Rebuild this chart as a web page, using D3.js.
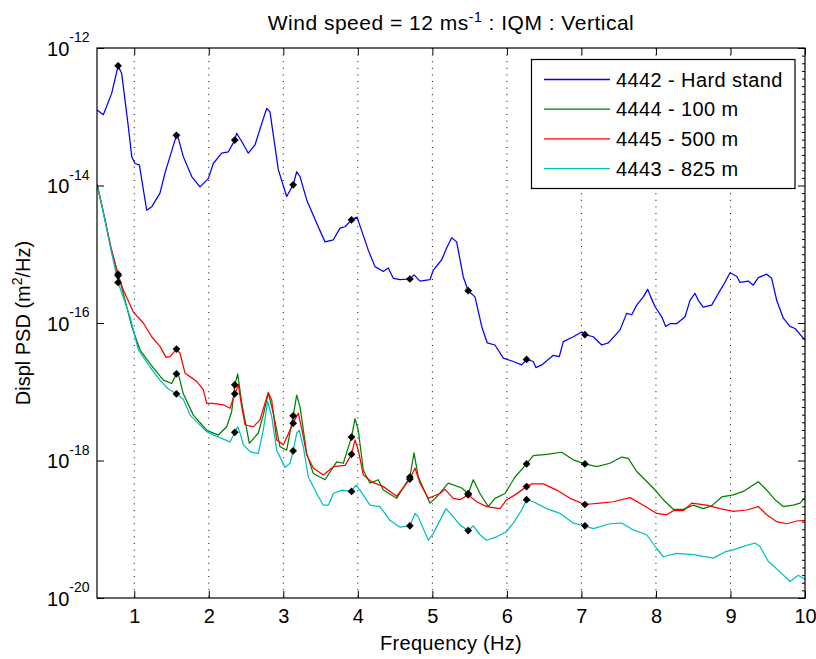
<!DOCTYPE html>
<html>
<head>
<meta charset="utf-8">
<script src="https://cdn.jsdelivr.net/npm/d3@7"></script>
<style>
  html, body { margin: 0; padding: 0; background: #fff; }
  svg { display: block; font-family: "Liberation Sans", Arial, Helvetica, sans-serif; }
  .axis text { fill: #000; }
</style>
</head>
<body>
<svg id="chart" width="816" height="659"></svg>
<script>
// ---- Spectra: frequency (Hz) and log10 of displacement PSD (m^2/Hz) ----

// 4442 - Hard stand
const hz4442 = [0.500, 0.585, 0.697, 0.831, 0.920, 0.966, 1.010, 1.068, 1.167, 1.234, 1.345, 1.412,
  1.591, 1.658, 1.771, 1.882, 1.993, 2.061, 2.173, 2.262, 2.374, 2.442, 2.530, 2.620, 2.710, 2.777,
  2.821, 2.933, 3.045, 3.180, 3.224, 3.314, 3.448, 3.559, 3.671, 3.761, 3.828, 3.989, 4.140, 4.230,
  4.342, 4.409, 4.476, 4.566, 4.754, 4.834, 4.968, 5.013, 5.125, 5.192, 5.259, 5.326, 5.415, 5.572,
  5.662, 5.737, 5.840, 5.952, 6.086, 6.199, 6.354, 6.390, 6.467, 6.623, 6.703, 6.757, 6.891, 7.004,
  7.159, 7.272, 7.361, 7.518, 7.607, 7.675, 7.742, 7.830, 7.889, 7.930, 7.987, 8.077, 8.131, 8.189,
  8.278, 8.390, 8.457, 8.524, 8.568, 8.635, 8.748, 8.837, 8.904, 8.994, 9.083, 9.128, 9.239, 9.306,
  9.373, 9.486, 9.553, 9.620, 9.709, 9.799, 9.866, 10.000];
const exp4442 = [-12.90, -12.97, -12.66, -12.37, -13.14, -13.58, -13.68, -13.70, -14.36, -14.31, -14.11, -13.82,
  -13.31, -13.58, -13.87, -14.02, -13.90, -13.68, -13.53, -13.51, -13.24, -13.36, -13.53, -13.41, -13.10, -12.88,
  -12.93, -13.77, -14.16, -13.80, -13.87, -14.21, -14.55, -14.82, -14.79, -14.62, -14.60, -14.46, -14.94, -15.18,
  -15.25, -15.20, -15.35, -15.37, -15.30, -15.39, -15.37, -15.23, -15.08, -14.91, -14.76, -14.82, -15.33, -15.62,
  -16.05, -16.29, -16.32, -16.51, -16.56, -16.61, -16.56, -16.65, -16.61, -16.47, -16.49, -16.27, -16.20, -16.13,
  -16.20, -16.32, -16.29, -16.10, -15.86, -15.88, -15.74, -15.62, -15.51, -15.62, -15.76, -15.91, -16.05, -16.01,
  -16.01, -15.91, -15.67, -15.57, -15.67, -15.77, -15.74, -15.57, -15.45, -15.27, -15.32, -15.41, -15.39, -15.45,
  -15.34, -15.29, -15.35, -15.67, -15.93, -16.05, -16.08, -16.25];

// 4444 - 100 m
const hz4444 = [0.500, 0.594, 0.688, 0.853, 0.966, 1.077, 1.211, 1.390, 1.502, 1.591, 1.658, 1.792,
  1.972, 2.128, 2.240, 2.307, 2.388, 2.442, 2.544, 2.664, 2.731, 2.798, 2.866, 2.955, 3.045, 3.180,
  3.224, 3.314, 3.402, 3.559, 3.716, 3.805, 3.962, 4.006, 4.073, 4.163, 4.274, 4.342, 4.521, 4.754,
  4.811, 4.968, 5.058, 5.214, 5.394, 5.549, 5.639, 5.750, 5.840, 5.975, 6.109, 6.354, 6.534, 6.735,
  6.891, 7.205, 7.383, 7.540, 7.629, 7.742, 7.964, 8.099, 8.233, 8.367, 8.501, 8.635, 8.748, 8.882,
  9.038, 9.172, 9.373, 9.486, 9.597, 9.709, 9.843, 9.933, 10.000];
const exp4444 = [-13.98, -14.43, -14.91, -15.57, -16.05, -16.39, -16.59, -16.83, -16.88, -16.74, -17.03, -17.34,
  -17.56, -17.63, -17.51, -17.29, -16.74, -17.16, -17.75, -17.60, -17.34, -17.02, -17.31, -17.80, -17.85, -17.05,
  -17.22, -17.90, -18.19, -18.28, -18.02, -18.04, -17.39, -17.56, -18.14, -18.33, -18.28, -18.43, -18.55, -17.89,
  -18.24, -18.62, -18.53, -18.33, -18.40, -18.28, -18.48, -18.67, -18.55, -18.48, -18.24, -17.93, -17.91, -17.88,
  -17.99, -18.09, -18.04, -17.95, -17.97, -18.16, -18.40, -18.57, -18.71, -18.71, -18.65, -18.70, -18.66, -18.53,
  -18.50, -18.45, -18.31, -18.43, -18.57, -18.67, -18.65, -18.62, -18.54];

// 4445 - 500 m
const hz4445 = [0.500, 0.594, 0.688, 0.853, 0.987, 1.121, 1.234, 1.345, 1.426, 1.480, 1.614, 1.681,
  1.748, 1.838, 1.926, 1.972, 2.061, 2.195, 2.285, 2.396, 2.442, 2.486, 2.597, 2.687, 2.798, 2.844,
  2.911, 3.000, 3.201, 3.268, 3.314, 3.402, 3.537, 3.671, 3.828, 3.962, 4.006, 4.073, 4.186, 4.342,
  4.521, 4.767, 4.834, 4.945, 5.102, 5.169, 5.281, 5.371, 5.595, 5.729, 5.908, 5.997, 6.109, 6.333,
  6.488, 6.668, 6.847, 7.249, 7.428, 7.652, 7.830, 8.010, 8.144, 8.233, 8.367, 8.480, 8.681, 8.859,
  9.038, 9.218, 9.373, 9.486, 9.620, 9.754, 9.888, 10.000];
const exp4445 = [-13.98, -14.43, -14.91, -15.52, -15.84, -16.00, -16.20, -16.34, -16.50, -16.49, -16.44, -16.73,
  -16.78, -16.85, -16.97, -17.17, -17.17, -17.19, -17.24, -16.90, -17.22, -17.48, -17.51, -17.41, -17.01, -17.12,
  -17.70, -17.77, -17.31, -17.65, -17.92, -18.11, -18.21, -18.09, -18.07, -17.70, -17.85, -18.21, -18.31, -18.38,
  -18.52, -18.11, -18.33, -18.55, -18.48, -18.42, -18.55, -18.57, -18.60, -18.67, -18.70, -18.57, -18.50, -18.34,
  -18.34, -18.43, -18.55, -18.62, -18.60, -18.54, -18.65, -18.77, -18.79, -18.73, -18.73, -18.62, -18.65, -18.70,
  -18.74, -18.72, -18.67, -18.79, -18.89, -18.92, -18.88, -18.87];

// 4443 - 825 m
const hz4443 = [0.500, 0.594, 0.688, 0.943, 1.054, 1.211, 1.345, 1.457, 1.658, 1.748, 1.972, 2.106,
  2.285, 2.388, 2.428, 2.463, 2.553, 2.664, 2.731, 2.790, 2.844, 2.911, 3.023, 3.090, 3.180, 3.214,
  3.268, 3.335, 3.448, 3.537, 3.604, 3.671, 3.787, 3.975, 4.029, 4.163, 4.297, 4.431, 4.566, 4.767,
  4.811, 4.945, 5.013, 5.183, 5.281, 5.371, 5.549, 5.639, 5.729, 5.863, 5.988, 6.086, 6.199, 6.354,
  6.534, 6.713, 6.891, 7.159, 7.383, 7.540, 7.696, 7.876, 8.010, 8.099, 8.278, 8.501, 8.769, 8.926,
  9.038, 9.172, 9.329, 9.396, 9.508, 9.665, 9.799, 9.910, 10.000];
const exp4443 = [-13.98, -14.44, -14.94, -15.91, -16.39, -16.64, -16.83, -16.96, -17.11, -17.34, -17.58, -17.65,
  -17.73, -17.51, -17.63, -17.77, -17.87, -17.90, -17.56, -17.14, -17.36, -17.85, -18.10, -18.04, -17.60, -17.56,
  -17.80, -18.24, -18.48, -18.65, -18.65, -18.48, -18.43, -18.36, -18.43, -18.65, -18.67, -18.87, -18.97, -18.77,
  -18.82, -19.16, -19.06, -18.70, -18.82, -18.94, -18.95, -19.08, -19.16, -19.11, -19.04, -18.91, -18.72, -18.60,
  -18.70, -18.77, -18.91, -18.99, -18.92, -18.91, -19.01, -19.08, -19.28, -19.40, -19.35, -19.37, -19.42, -19.33,
  -19.30, -19.25, -19.20, -19.25, -19.47, -19.62, -19.76, -19.67, -19.73];

// Harmonic frequencies picked out with markers, and the spectrum level at each
const harmonicHz = [0.783, 1.566, 2.349, 3.132, 3.915, 4.698, 5.481, 6.264, 7.047];
const mark4442 = [-12.26, -13.27, -13.34, -13.99, -14.50, -15.36, -15.53, -16.53, -16.17];
const mark4444 = [-15.29, -16.74, -16.90, -17.35, -17.66, -18.24, -18.48, -18.05, -18.05];
const mark4445 = [-15.31, -16.38, -17.03, -17.46, -17.91, -18.27, -18.50, -18.38, -18.64];
const mark4443 = [-15.41, -17.03, -17.59, -17.86, -18.45, -18.95, -19.02, -18.57, -18.95];

// Legend entries and colours
const seriesNames = ["4442 - Hard stand", "4444 - 100 m", "4445 - 500 m", "4443 - 825 m"];
const seriesColors = ["#0000ff", "#008000", "#ff0000", "#00bfbf"];

// Axis ticks
const xTickValues = [1, 2, 3, 4, 5, 6, 7, 8, 9, 10];
const yTickExps = [-12, -14, -16, -18, -20];

// ---- Layout ----
const svg = d3.select("#chart");
const plot = { left: 97, top: 48, right: 805, bottom: 598 };

const x = d3.scaleLinear().domain([0.5, 10]).range([plot.left, plot.right]);
const y = d3.scaleLog().domain([1e-20, 1e-12]).range([plot.bottom, plot.top]);

const toPoints = (hz, ex) => hz.map((f, i) => ({ f, v: Math.pow(10, ex[i]) }));

const series = [
  { name: seriesNames[0], color: seriesColors[0], pts: toPoints(hz4442, exp4442), marks: toPoints(harmonicHz, mark4442) },
  { name: seriesNames[1], color: seriesColors[1], pts: toPoints(hz4444, exp4444), marks: toPoints(harmonicHz, mark4444) },
  { name: seriesNames[2], color: seriesColors[2], pts: toPoints(hz4445, exp4445), marks: toPoints(harmonicHz, mark4445) },
  { name: seriesNames[3], color: seriesColors[3], pts: toPoints(hz4443, exp4443), marks: toPoints(harmonicHz, mark4443) }
];
// The marked harmonics lie on each curve
series.forEach(s => { s.line = s.pts.concat(s.marks).sort((a, b) => a.f - b.f); });

svg.append("defs").append("clipPath").attr("id", "plot-clip")
  .append("rect")
  .attr("x", plot.left).attr("y", plot.top)
  .attr("width", plot.right - plot.left).attr("height", plot.bottom - plot.top);

// Dotted vertical grid
svg.append("g").attr("class", "grid")
  .selectAll("line")
  .data(xTickValues.filter(d => d < 10))
  .join("line")
  .attr("x1", d => x(d)).attr("x2", d => x(d))
  .attr("y1", plot.top).attr("y2", plot.bottom)
  .attr("stroke", "#000")
  .attr("stroke-width", 1)
  .attr("stroke-dasharray", "1,5.6");

// Curves
const line = d3.line().x(d => x(d.f)).y(d => y(d.v));
const curves = svg.append("g").attr("clip-path", "url(#plot-clip)");
curves.selectAll("path")
  .data(series)
  .join("path")
  .attr("d", d => line(d.line))
  .attr("fill", "none")
  .attr("stroke", d => d.color)
  .attr("stroke-width", 1.25)
  .attr("stroke-linejoin", "round");

// Harmonic markers
const diamond = d3.symbol().type(d3.symbolSquare).size(30);
svg.append("g").selectAll("path")
  .data(series.flatMap(s => s.marks))
  .join("path")
  .attr("d", diamond)
  .attr("transform", d => `translate(${x(d.f)},${y(d.v)}) rotate(45)`)
  .attr("fill", "#000");

// ---- Axes (ticks pointing inward, box all round) ----
const yTickValues = yTickExps.map(e => Math.pow(10, e));
const minorExps = d3.range(-20 * 9, -12 * 9 + 1).map(k => k / 9).filter(e => Math.abs(e - Math.round(e / 2) * 2) > 1e-6);

const bottomAxis = svg.append("g").attr("class", "axis")
  .attr("transform", `translate(0,${plot.bottom})`)
  .call(d3.axisBottom(x).tickValues(xTickValues).tickSizeInner(-7).tickSizeOuter(0).tickPadding(11))
  .attr("font-size", 20).attr("font-family", null);
bottomAxis.select(".domain").remove();

const topAxis = svg.append("g").attr("class", "axis")
  .attr("transform", `translate(0,${plot.top})`)
  .call(d3.axisTop(x).tickValues(xTickValues).tickSizeInner(-7).tickSizeOuter(0).tickFormat(""));
topAxis.select(".domain").remove();

const leftAxis = svg.append("g").attr("class", "axis")
  .attr("transform", `translate(${plot.left},0)`)
  .call(d3.axisLeft(y).tickValues(yTickValues).tickSizeInner(-7).tickSizeOuter(0).tickPadding(8)
    .tickFormat(() => ""));
leftAxis.select(".domain").remove();
leftAxis.selectAll(".tick text")
  .attr("font-size", 20)
  .attr("font-family", null)
  .attr("x", -7.5)
  .attr("dy", 7)
  .each(function (d) {
    const t = d3.select(this);
    t.append("tspan").text("10");
    t.append("tspan").attr("font-size", 14).attr("dy", -13.5).text(String(Math.round(Math.log10(d))));
  });

const rightAxis = svg.append("g").attr("class", "axis")
  .attr("transform", `translate(${plot.right},0)`)
  .call(d3.axisRight(y).tickValues(yTickValues).tickSizeInner(-7).tickSizeOuter(0).tickFormat(""));
rightAxis.select(".domain").remove();
svg.append("g").attr("class", "axis")
  .attr("transform", `translate(${plot.right},0)`)
  .call(d3.axisRight(y).tickValues(minorExps.map(e => Math.pow(10, e))).tickSizeInner(-3).tickSizeOuter(0).tickFormat(""))
  .select(".domain").remove();

svg.selectAll(".axis .tick line").attr("stroke", "#000");

// Plot frame
svg.append("rect")
  .attr("x", plot.left).attr("y", plot.top)
  .attr("width", plot.right - plot.left).attr("height", plot.bottom - plot.top)
  .attr("fill", "none").attr("stroke", "#000").attr("stroke-width", 1.2);

// ---- Labels ----
const title = svg.append("text")
  .attr("x", (plot.left + plot.right) / 2).attr("y", 30)
  .attr("text-anchor", "middle").attr("font-size", 21)
  .attr("letter-spacing", 0.5);
title.append("tspan").text("Wind speed = 12 ms");
title.append("tspan").attr("font-size", 14).attr("dy", -8).text("-1");
title.append("tspan").attr("dy", 8).text(" : IQM : Vertical");

svg.append("text")
  .attr("x", (plot.left + plot.right) / 2).attr("y", 650)
  .attr("text-anchor", "middle").attr("font-size", 20)
  .attr("letter-spacing", 0.3)
  .text("Frequency (Hz)");

const ylab = svg.append("text")
  .attr("transform", `translate(30,${(plot.top + plot.bottom) / 2}) rotate(-90)`)
  .attr("text-anchor", "middle").attr("font-size", 20);
ylab.append("tspan").text("Displ PSD (m");
ylab.append("tspan").attr("font-size", 14).attr("dy", -8).text("2");
ylab.append("tspan").attr("dy", 8).text("/Hz)");

// ---- Legend ----
const legend = svg.append("g");
legend.append("rect")
  .attr("x", 531.5).attr("y", 59.5).attr("width", 263.5).attr("height", 129)
  .attr("fill", "#fff").attr("stroke", "#000").attr("stroke-width", 1.2);
const items = legend.selectAll("g.item")
  .data(series)
  .join("g").attr("class", "item")
  .attr("transform", (d, i) => `translate(0,${79.5 + i * 29.7})`);
items.append("line")
  .attr("x1", 544).attr("x2", 610).attr("y1", 0).attr("y2", 0)
  .attr("stroke", d => d.color).attr("stroke-width", 1.3);
items.append("text")
  .attr("x", 616).attr("y", 7).attr("font-size", 20)
  .attr("letter-spacing", 0.4)
  .text(d => d.name);
</script>
</body>
</html>
